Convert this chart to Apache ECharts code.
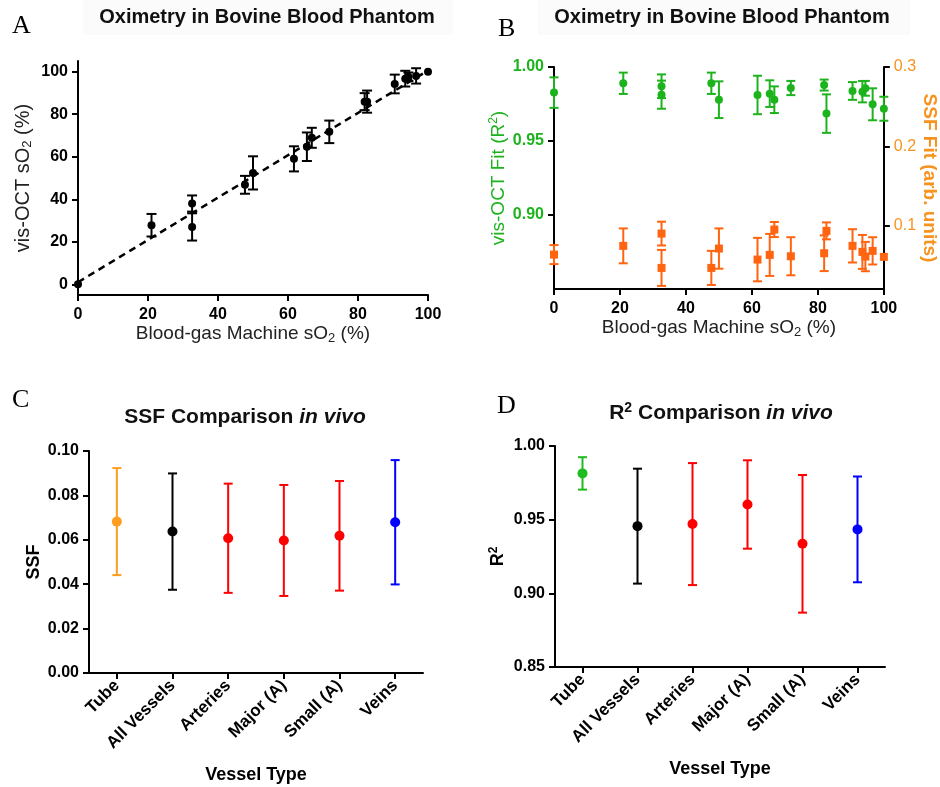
<!DOCTYPE html>
<html>
<head>
<meta charset="utf-8">
<script src="https://cdn.jsdelivr.net/npm/echarts@6.0.0/dist/echarts.min.js"></script>
<style>
    html, body { margin: 0; padding: 0; background: #fff; }
    #main { width: 940px; height: 787px; }
</style>
</head>
<body>
<div id="main"></div>
<script>
// 血气机测得的 sO2 (A、B 共用 x)
var bloodGasSO2 = [0, 21, 32.6, 32.6, 47.7, 50, 61.7, 65.4, 66.8, 71.8, 81.9, 82.6, 90.5, 93.5, 94.4, 96.6, 100];
// A: vis-OCT sO2 与误差
var octSO2 = [0, 27.8, 38.0, 27.0, 46.8, 52.4, 59.0, 64.7, 68.9, 71.7, 85.9, 85.9, 94.2, 96.7, 97.6, 98.0, 100];
var octErr = [0, 5.3, 3.8, 6.4, 4.2, 7.8, 5.9, 6.7, 4.7, 5.3, 4.0, 5.2, 4.4, 3.7, 2.0, 3.6, 0];
// A: 拟合虚线
var fitX = [0, 100];
var fitY = [1, 100.5];
// B: R2 (左轴) 与 SSF (右轴)
var fitR2 = [0.9827, 0.989, 0.987, 0.9813, 0.989, 0.9779, 0.9811, 0.982, 0.9779, 0.9858, 0.9878, 0.9685, 0.9838, 0.9833, 0.9856, 0.9748, 0.9718];
var fitR2Err = [0.0103, 0.0072, 0.008, 0.0095, 0.0072, 0.0124, 0.013, 0.009, 0.009, 0.0048, 0.0037, 0.013, 0.006, 0.0072, 0.005, 0.0108, 0.0081];
var fitSSF = [0.0634, 0.0744, 0.0899, 0.0466, 0.0466, 0.071, 0.0571, 0.063, 0.095, 0.0613, 0.0651, 0.0933, 0.0744, 0.0668, 0.0609, 0.0681, 0.0605];
var fitSSFErr = [0.012, 0.022, 0.015, 0.0227, 0.0215, 0.0254, 0.0274, 0.0265, 0.0095, 0.024, 0.0225, 0.0107, 0.021, 0.0214, 0.0185, 0.0172, 0];
// C、D: 血管类型
var vesselTypes = ['Tube', 'All Vessels', 'Arteries', 'Major (A)', 'Small (A)', 'Veins'];
var ssfMean = [0.0682, 0.0637, 0.0607, 0.0597, 0.0618, 0.0679];
var ssfErr = [0.0241, 0.0262, 0.0246, 0.025, 0.0247, 0.028];
var r2Mean = [0.9814, 0.9456, 0.947, 0.9603, 0.9336, 0.9434];
var r2Err = [0.011, 0.039, 0.0414, 0.030, 0.0467, 0.0359];
// 刻度
var ticksA = [0, 20, 40, 60, 80, 100];
var ticksBLeft = [0.9, 0.95, 1.0];
var ticksBRight = [0.1, 0.2, 0.3];

var FONT = 'Liberation Sans, Arial, sans-serif';
var GREEN = '#1db31d';
var ORANGE = '#ff6410';
var ORANGE_TXT = '#f7931e';
var ssfColors = ['#ff9d1e', '#000000', '#ff0000', '#ff0000', '#ff0000', '#0000ff'];
var r2Colors = ['#1fbb1f', '#000000', '#ff0000', '#ff0000', '#ff0000', '#0000ff'];

var myChart = echarts.init(document.getElementById('main'));

// 误差棒 (custom series)
function errorBars(xi, yi, rows, color, capW) {
    return {
        type: 'custom',
        xAxisIndex: xi,
        yAxisIndex: yi,
        silent: true,
        z: 2,
        encode: { x: 0, y: [1, 2] },
        data: rows,
        renderItem: function (params, api) {
            var x = api.value(0);
            var top = api.coord([x, api.value(2)]);
            var bot = api.coord([x, api.value(1)]);
            var c = typeof color === 'function' ? color(params.dataIndex) : color;
            var st = { stroke: c, lineWidth: 2 };
            var h = capW / 2;
            return {
                type: 'group',
                children: [
                    { type: 'line', shape: { x1: top[0], y1: top[1], x2: bot[0], y2: bot[1] }, style: st },
                    { type: 'line', shape: { x1: top[0] - h, y1: top[1], x2: top[0] + h, y2: top[1] }, style: st },
                    { type: 'line', shape: { x1: bot[0] - h, y1: bot[1], x2: bot[0] + h, y2: bot[1] }, style: st }
                ]
            };
        }
    };
}

function barRows(xs, ys, es) {
    var rows = [];
    for (var i = 0; i < ys.length; i++) {
        if (es[i] > 0) rows.push([xs[i], ys[i] - es[i], ys[i] + es[i]]);
    }
    return rows;
}

function pairs(xs, ys) {
    return ys.map(function (y, i) { return [xs[i], y]; });
}

var idx = vesselTypes.map(function (v, i) { return i; });

var axisLineBlack = { show: true, onZero: false, lineStyle: { color: '#000', width: 2 } };
var tickBlack = { show: true, length: 6, lineStyle: { color: '#000', width: 2 } };
var labelBold = { color: '#000', fontSize: 16, fontWeight: 'bold', fontFamily: FONT };
var subRich = { sub: { fontSize: 13, padding: [9, 0, 0, 0], fontFamily: FONT } };
var supRich = { sup: { fontSize: 12, padding: [0, 0, 9, 0], fontFamily: FONT, fontWeight: 'bold' } };

function catAxis(gi) {
    return {
        type: 'category',
        gridIndex: gi,
        data: vesselTypes,
        boundaryGap: true,
        axisLine: axisLineBlack,
        axisTick: { show: true, length: 6, alignWithLabel: true, lineStyle: { color: '#000', width: 2 } },
        axisLabel: { color: '#000', fontSize: 17, fontWeight: 'bold', fontFamily: FONT, rotate: 45, margin: 10, interval: 0 },
        splitLine: { show: false },
        name: 'Vessel Type',
        nameLocation: 'middle',
        nameGap: 93,
        nameTextStyle: { color: '#000', fontSize: 18, fontWeight: 'bold', fontFamily: FONT }
    };
}

var option = {
    backgroundColor: '#ffffff',
    animation: false,
    grid: [
        { left: 78, top: 61, width: 350, height: 234 },
        { left: 554, top: 67, width: 333, height: 222 },
        { left: 89, top: 451, width: 334, height: 222 },
        { left: 555, top: 446, width: 330, height: 221 }
    ],
    xAxis: [
        {
            type: 'value', gridIndex: 0, min: 0, max: 100, interval: 20,
            axisLine: axisLineBlack, axisTick: tickBlack,
            axisLabel: Object.assign({ margin: 12 }, labelBold),
            splitLine: { show: false },
            name: 'Blood-gas Machine sO{sub|2} (%)', nameLocation: 'middle', nameGap: 28,
            nameTextStyle: { color: '#222', fontSize: 19, fontFamily: FONT, rich: subRich }
        },
        {
            type: 'value', gridIndex: 1, min: 0, max: 100, interval: 20,
            axisLine: axisLineBlack, axisTick: tickBlack,
            axisLabel: Object.assign({ margin: 12 }, labelBold),
            splitLine: { show: false },
            name: 'Blood-gas Machine sO{sub|2} (%)', nameLocation: 'middle', nameGap: 28,
            nameTextStyle: { color: '#222', fontSize: 19, fontFamily: FONT, rich: subRich }
        },
        catAxis(2),
        catAxis(3)
    ],
    yAxis: [
        {
            type: 'value', gridIndex: 0, min: -5, max: 105,
            axisLine: axisLineBlack,
            axisTick: Object.assign({ customValues: ticksA }, tickBlack),
            axisLabel: Object.assign({ customValues: ticksA, margin: 10 }, labelBold),
            splitLine: { show: false },
            name: 'vis-OCT sO{sub|2} (%)', nameLocation: 'middle', nameGap: 44, nameRotate: 90,
            nameTextStyle: { color: '#222', fontSize: 20, fontFamily: FONT, rich: subRich }
        },
        {
            type: 'value', gridIndex: 1, min: 0.85, max: 1.0, position: 'left',
            axisLine: axisLineBlack,
            axisTick: Object.assign({ customValues: ticksBLeft }, tickBlack),
            axisLabel: {
                customValues: ticksBLeft, margin: 10, color: GREEN, fontSize: 16, fontWeight: 'bold', fontFamily: FONT,
                formatter: function (v) { return v.toFixed(2); }
            },
            splitLine: { show: false },
            name: 'vis-OCT Fit (R{sup|2})', nameLocation: 'middle', nameGap: 45, nameRotate: 90,
            nameTextStyle: { color: GREEN, fontSize: 19, fontFamily: FONT, rich: { sup: { fontSize: 12, padding: [0, 0, 9, 0], color: GREEN } } }
        },
        {
            type: 'value', gridIndex: 1, min: 0.02, max: 0.3, position: 'right',
            axisLine: axisLineBlack,
            axisTick: Object.assign({ customValues: ticksBRight }, tickBlack),
            axisLabel: {
                customValues: ticksBRight, margin: 10, color: ORANGE_TXT, fontSize: 16, fontFamily: FONT,
                formatter: function (v) { return v.toFixed(1); }
            },
            splitLine: { show: false },
            name: 'SSF Fit (arb. units)', nameLocation: 'middle', nameGap: 36, nameRotate: -90,
            nameTextStyle: { color: ORANGE_TXT, fontSize: 19, fontWeight: 'bold', fontFamily: FONT }
        },
        {
            type: 'value', gridIndex: 2, min: 0, max: 0.1, interval: 0.02,
            axisLine: axisLineBlack, axisTick: tickBlack,
            axisLabel: Object.assign({ margin: 10, formatter: function (v) { return v.toFixed(2); } }, labelBold),
            splitLine: { show: false },
            name: 'SSF', nameLocation: 'middle', nameGap: 46, nameRotate: 90,
            nameTextStyle: { color: '#000', fontSize: 18, fontWeight: 'bold', fontFamily: FONT }
        },
        {
            type: 'value', gridIndex: 3, min: 0.85, max: 1.0, interval: 0.05,
            axisLine: axisLineBlack, axisTick: tickBlack,
            axisLabel: Object.assign({ margin: 10, formatter: function (v) { return v.toFixed(2); } }, labelBold),
            splitLine: { show: false },
            name: 'R{sup|2}', nameLocation: 'middle', nameGap: 46, nameRotate: 90,
            nameTextStyle: { color: '#000', fontSize: 18, fontWeight: 'bold', fontFamily: FONT, rich: supRich }
        }
    ],
    series: [
        // A
        {
            type: 'line', xAxisIndex: 0, yAxisIndex: 0, data: pairs(fitX, fitY),
            symbol: 'none', silent: true, z: 1,
            lineStyle: { color: '#000', width: 2.5, type: [7, 5] }
        },
        errorBars(0, 0, barRows(bloodGasSO2, octSO2, octErr), '#000', 10),
        {
            type: 'scatter', xAxisIndex: 0, yAxisIndex: 0, data: pairs(bloodGasSO2, octSO2),
            symbol: 'circle', symbolSize: 8, z: 3, itemStyle: { color: '#000', opacity: 1 }
        },
        // B
        errorBars(1, 1, barRows(bloodGasSO2, fitR2, fitR2Err), GREEN, 9),
        {
            type: 'scatter', xAxisIndex: 1, yAxisIndex: 1, data: pairs(bloodGasSO2, fitR2),
            symbol: 'circle', symbolSize: 8, z: 3, itemStyle: { color: GREEN, opacity: 1 }
        },
        errorBars(1, 2, barRows(bloodGasSO2, fitSSF, fitSSFErr), ORANGE, 9),
        {
            type: 'scatter', xAxisIndex: 1, yAxisIndex: 2, data: pairs(bloodGasSO2, fitSSF),
            symbol: 'rect', symbolSize: 8, z: 3, itemStyle: { color: ORANGE, opacity: 1 }
        },
        // C
        errorBars(2, 3, barRows(idx, ssfMean, ssfErr), function (i) { return ssfColors[i]; }, 9),
        {
            type: 'scatter', xAxisIndex: 2, yAxisIndex: 3, data: pairs(idx, ssfMean),
            symbol: 'circle', symbolSize: 10, z: 3,
            itemStyle: { opacity: 1, color: function (p) { return ssfColors[p.dataIndex]; } }
        },
        // D
        errorBars(3, 4, barRows(idx, r2Mean, r2Err), function (i) { return r2Colors[i]; }, 9),
        {
            type: 'scatter', xAxisIndex: 3, yAxisIndex: 4, data: pairs(idx, r2Mean),
            symbol: 'circle', symbolSize: 10, z: 3,
            itemStyle: { opacity: 1, color: function (p) { return r2Colors[p.dataIndex]; } }
        }
    ],
    graphic: [
        // 标题背景 (很淡的灰色)
        { type: 'rect', shape: { x: 83, y: 0, width: 370, height: 35 }, style: { fill: '#fbfbfb' }, z: -1 },
        { type: 'rect', shape: { x: 538, y: 0, width: 372, height: 35 }, style: { fill: '#fbfbfb' }, z: -1 },
        // 标题
        {
            type: 'text', x: 267, y: 17,
            style: { text: 'Oximetry in Bovine Blood Phantom', align: 'center', verticalAlign: 'middle', fontSize: 20, fontWeight: 'bold', fontFamily: FONT, fill: '#111' }
        },
        {
            type: 'text', x: 722, y: 17,
            style: { text: 'Oximetry in Bovine Blood Phantom', align: 'center', verticalAlign: 'middle', fontSize: 20, fontWeight: 'bold', fontFamily: FONT, fill: '#111' }
        },
        {
            type: 'text', x: 245, y: 417,
            style: {
                text: 'SSF Comparison {i|in vivo}', align: 'center', verticalAlign: 'middle', fontSize: 21, fontWeight: 'bold', fontFamily: FONT, fill: '#111',
                rich: { i: { fontSize: 21, fontWeight: 'bold', fontStyle: 'italic', fontFamily: FONT, fill: '#111' } }
            }
        },
        {
            type: 'text', x: 721, y: 413,
            style: {
                text: 'R{sup|2} Comparison {i|in vivo}', align: 'center', verticalAlign: 'middle', fontSize: 21, fontWeight: 'bold', fontFamily: FONT, fill: '#111',
                rich: {
                    sup: { fontSize: 14, fontWeight: 'bold', fontFamily: FONT, padding: [0, 0, 10, 0], fill: '#111' },
                    i: { fontSize: 21, fontWeight: 'bold', fontStyle: 'italic', fontFamily: FONT, fill: '#111' }
                }
            }
        },
        // 面板字母
        { type: 'text', x: 12, y: 13, style: { text: 'A', fontSize: 26, fontFamily: 'Liberation Serif, serif', fill: '#000' } },
        { type: 'text', x: 498, y: 16, style: { text: 'B', fontSize: 26, fontFamily: 'Liberation Serif, serif', fill: '#000' } },
        { type: 'text', x: 12, y: 387, style: { text: 'C', fontSize: 26, fontFamily: 'Liberation Serif, serif', fill: '#000' } },
        { type: 'text', x: 497, y: 393, style: { text: 'D', fontSize: 26, fontFamily: 'Liberation Serif, serif', fill: '#000' } }
    ]
};

myChart.setOption(option);
window.onresize = function () {
    myChart.resize();
};
</script>
</body>
</html>
